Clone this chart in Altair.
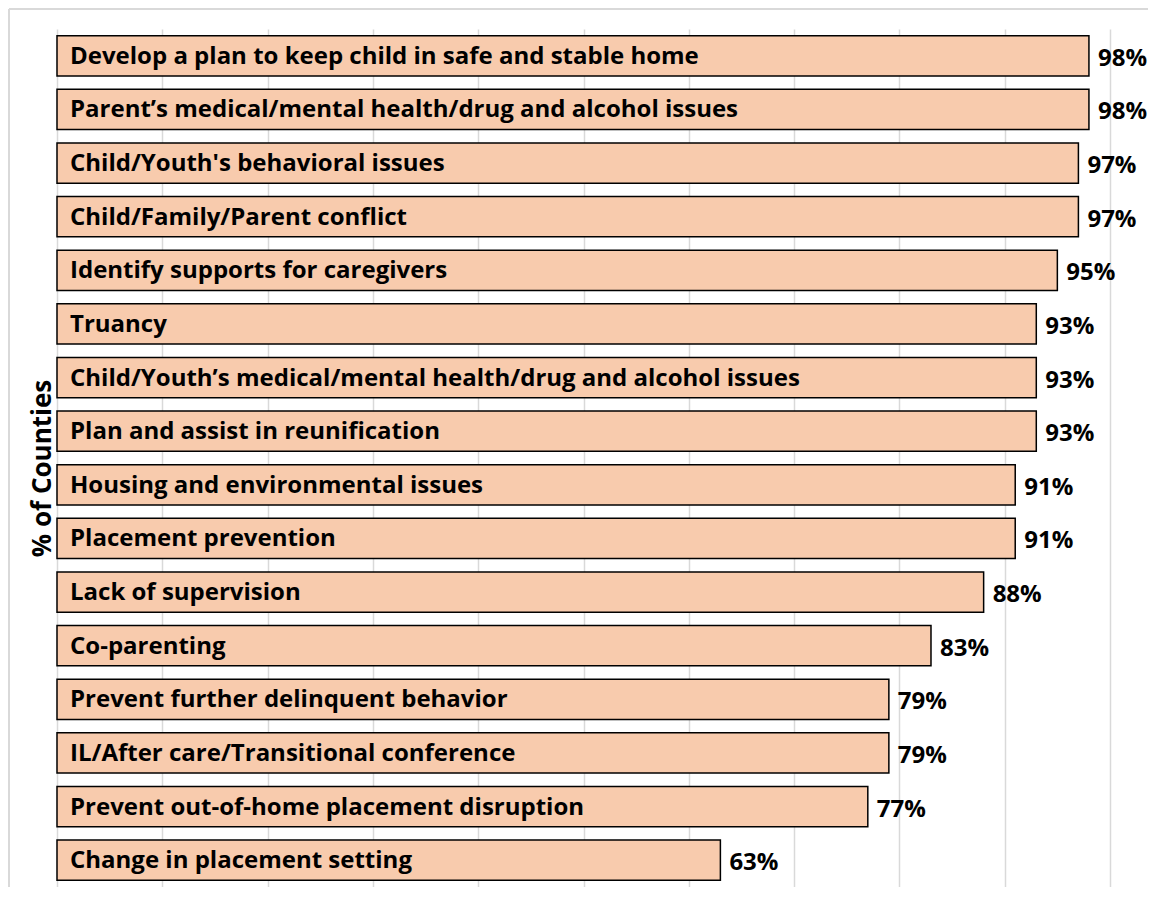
import altair as alt
import pandas as pd

categories = [
    "Develop a plan to keep child in safe and stable home",
    "Parent\u2019s medical/mental health/drug and alcohol issues",
    "Child/Youth's behavioral issues",
    "Child/Family/Parent conflict",
    "Identify supports for caregivers",
    "Truancy",
    "Child/Youth\u2019s medical/mental health/drug and alcohol issues",
    "Plan and assist in reunification",
    "Housing and environmental issues",
    "Placement prevention",
    "Lack of supervision",
    "Co-parenting",
    "Prevent further delinquent behavior",
    "IL/After care/Transitional conference",
    "Prevent out-of-home placement disruption",
    "Change in placement setting",
]
values = [98, 98, 97, 97, 95, 93, 93, 93, 91, 91, 88, 83, 79, 79, 77, 63]
grid_ticks = [0, 10, 20, 30, 40, 50, 60, 70, 80, 90, 100]

df = pd.DataFrame({"category": categories, "value": values})
df["label"] = df["value"].astype(str) + "%"

FONT = "Open Sans"
FS = 24

y_enc = alt.Y(
    "category:N",
    sort=categories,
    scale=alt.Scale(paddingInner=0.25, paddingOuter=0.125),
    axis=alt.Axis(
        labels=False, ticks=False, domain=False, grid=False,
        title="% of Counties", titleFont=FONT, titleFontSize=26,
        titleFontWeight="bold", titleColor="black", titleAngle=-90,
        titleX=-7, titleY=439, titleAlign="center", titleBaseline="alphabetic",
    ),
)
x_enc = alt.X(
    "value:Q",
    scale=alt.Scale(domain=[0, 100], nice=False),
    axis=alt.Axis(
        values=grid_ticks, labels=False, ticks=False, domain=False,
        grid=True, gridColor="#d9d9d9", gridWidth=1.5, title=None,
    ),
)

base = alt.Chart(df)

bars = base.mark_bar(
    fill="#F8CBAD", stroke="black", strokeWidth=1.5
).encode(x=x_enc, y=y_enc)

names = base.mark_text(
    align="left", baseline="middle", dx=13, dy=1, font=FONT, fontSize=FS,
    fontWeight="bold", color="black"
).encode(x=alt.datum(0), y=alt.Y("category:N", sort=categories), text="category:N")

vals = base.mark_text(
    align="left", baseline="middle", dx=9, dy=3, font=FONT, fontSize=FS,
    fontWeight="bold", color="black"
).encode(x="value:Q", y=alt.Y("category:N", sort=categories), text="label:N")

frame_df = pd.DataFrame({"a": [0]})
left_border = alt.Chart(frame_df).mark_rule(color="#d9d9d9", strokeWidth=2).encode(
    x=alt.value(-48), y=alt.value(-20), y2=alt.value(880)
)
top_border = alt.Chart(frame_df).mark_rule(color="#d9d9d9", strokeWidth=2).encode(
    x=alt.value(-48), x2=alt.value(1100), y=alt.value(-20)
)

chart = alt.layer(bars, names, vals, left_border, top_border).properties(
    width=1053, height=858,
    autosize=alt.AutoSizeParams(type="none"),
    padding={"left": 49, "top": 21, "right": 38, "bottom": 0},
    background="white",
).configure_view(stroke=None)

chart.save("out.html", embed_options={"renderer": "svg", "actions": False})
